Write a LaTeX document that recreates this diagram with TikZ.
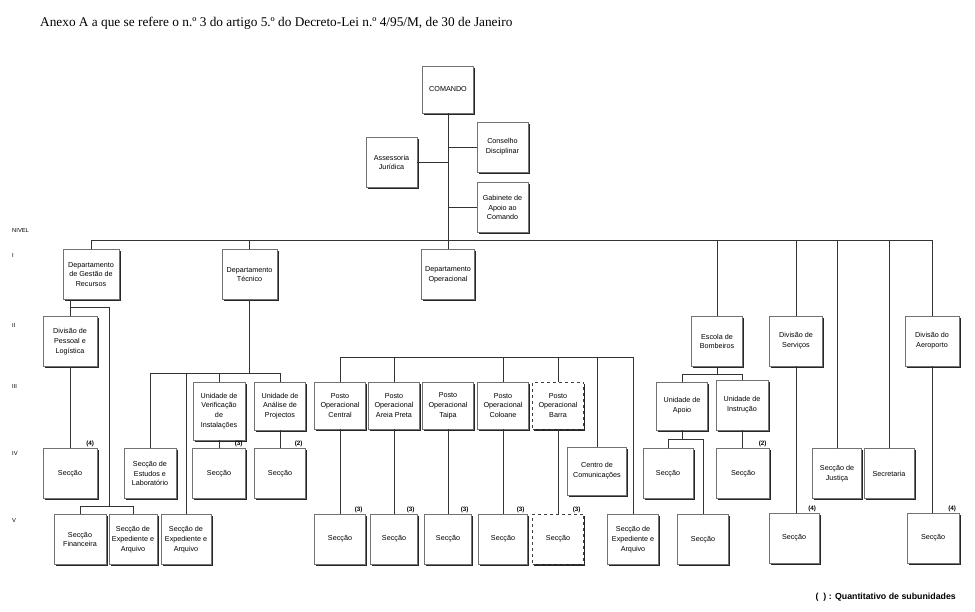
\documentclass[tikz,border=0pt]{standalone}
\usepackage{fontspec}
\setmainfont{Liberation Serif}
\setsansfont{Liberation Sans}
\usetikzlibrary{shadows}

\tikzset{
  caixa/.style={draw=black!55, fill=white, line width=.5pt, minimum width=51pt,
    minimum height=50pt, inner sep=1pt, align=center,
    font=\sffamily\fontsize{7.2}{9.8}\selectfont,
    drop shadow={shadow xshift=1.6pt, shadow yshift=-1.6pt, fill=black!85, opacity=1}},
  tracejada/.style={caixa, dashed, draw=black!75},
  quant/.style={anchor=south east, inner sep=1pt, xshift=-2pt,
    font=\sffamily\bfseries\fontsize{6.3}{7}\selectfont},
  nivel/.style={anchor=west, inner sep=0pt, font=\sffamily\fontsize{5.8}{6}\selectfont},
  ligacao/.style={draw=black!80, line width=.6pt}
}

\begin{document}
\begin{tikzpicture}[x=1pt, y=-1pt]
\useasboundingbox (0,0) rectangle (975,611);
\node[anchor=base west, inner sep=0pt, font=\fontsize{13.3}{15}\selectfont] (titulo) at (40,26.5)
  {Anexo A a que se refere o n.º 3 do artigo 5.º do Decreto-Lei n.º 4/95/M, de 30 de Janeiro};

\node[nivel] (nv) at (12,230) {NIVEL};
\node[nivel] (nv1) at (12,255) {I};
\node[nivel] (nv2) at (12,325) {II};
\node[nivel] (nv3) at (12,386) {III};
\node[nivel] (nv4) at (12,453) {IV};
\node[nivel] (nv5) at (12,520) {V};

\coordinate (topo) at (0,240);
\coordinate (tec) at (0,373);
\coordinate (op) at (0,357);
\coordinate (esc) at (0,374);
\coordinate (ap) at (0,439);
\coordinate (rec) at (0,307);
\coordinate (ramo) at (109,506);

\node[caixa, minimum height=47pt] (comando) at (448,89.5) {COMANDO};
\node[caixa] (conselho) at (502.5,147) {Conselho\\Disciplinar};
\node[caixa] (assessoria) at (391.5,162.5) {Assessoria\\Jurídica};
\node[caixa] (gabinete) at (502.5,207.5) {Gabinete de\\Apoio ao\\Comando};

\node[caixa, minimum width=56pt] (dgr) at (91,274.5) {Departamento\\de Gestão de\\Recursos};
\node[caixa, minimum width=55pt] (dtec) at (249.5,274.5) {Departamento\\Técnico};
\node[caixa, minimum width=53pt] (dop) at (448,274.5) {Departamento\\Operacional};

\node[caixa, minimum width=54pt] (dpl) at (70,341.5) {Divisão de\\Pessoal e\\Logística};
\node[caixa] (escola) at (717,341.5) {Escola de\\Bombeiros};
\node[caixa, minimum width=53pt] (dserv) at (796,341) {Divisão de\\Serviços};
\node[caixa, minimum width=54pt] (daero) at (932,341) {Divisão do\\Aeroporto};

\node[caixa, minimum width=52pt, minimum height=58pt] (uvi) at (219,411) {Unidade de\\Verificação\\de\\Instalações};
\node[caixa, minimum height=48pt] (uap) at (280,406) {Unidade de\\Análise de\\Projectos};
\node[caixa, minimum height=47pt] (pcentral) at (340,405.5) {Posto\\Operacional\\Central};
\node[caixa, minimum height=47pt] (pareia) at (394,405.5) {Posto\\Operacional\\Areia Preta};
\node[caixa, minimum height=47pt] (ptaipa) at (448,405.5) {Posto\\Operacional\\Taipa};
\node[caixa, minimum height=47pt] (pcoloane) at (503,405.5) {Posto\\Operacional\\Coloane};
\node[tracejada, minimum height=47pt] (pbarra) at (558,405.5) {Posto\\Operacional\\Barra};
\node[caixa, minimum height=48pt] (uapoio) at (682,406) {Unidade de\\Apoio};
\node[caixa, minimum width=52pt, minimum height=50pt] (uinstr) at (742,405) {Unidade de\\Instrução};

\node[caixa, minimum width=54pt] (sec1) at (70,473.5) {Secção};
\node[caixa, minimum width=52pt] (sel) at (150,473.5) {Secção de\\Estudos e\\Laboratório};
\node[caixa, minimum width=53pt] (sec2) at (219,473.5) {Secção};
\node[caixa] (sec3) at (280,473.5) {Secção};
\node[caixa, minimum width=59pt, minimum height=48pt] (ccom) at (597,471) {Centro de\\Comunicações};
\node[caixa, minimum width=50pt] (sec4) at (668,473.5) {Secção};
\node[caixa, minimum width=53pt] (sec5) at (743,473.5) {Secção};
\node[caixa, minimum width=49pt] (sjust) at (837,473.5) {Secção de\\Justiça};
\node[caixa, minimum width=50pt] (secret) at (889,473.5) {Secretaria};

\node[caixa, minimum width=52pt] (sfin) at (80,539.5) {Secção\\Financeira};
\node[caixa, minimum width=48pt] (sexp1) at (133,539.5) {Secção de\\Expediente e\\Arquivo};
\node[caixa, minimum width=50pt] (sexp2) at (186,539.5) {Secção de\\Expediente e\\Arquivo};
\node[caixa] (seccen) at (340,539) {Secção};
\node[caixa, minimum width=47pt] (secare) at (394,539) {Secção};
\node[caixa, minimum width=47pt] (sectai) at (448,539) {Secção};
\node[caixa, minimum width=49pt] (seccol) at (503,539) {Secção};
\node[tracejada] (secbar) at (558,539) {Secção};
\node[caixa] (sexp3) at (633,539.5) {Secção de\\Expediente e\\Arquivo};
\node[caixa] (sec6) at (703,539.5) {Secção};
\node[caixa, minimum width=50pt] (sec7) at (794,538) {Secção};
\node[caixa, minimum width=52pt] (sec8) at (933,538) {Secção};

\node[quant] (q1) at (sec1.north east) {(4)};
\node[quant] (q2) at (sec2.north east) {(3)};
\node[quant] (q3) at (sec3.north east) {(2)};
\node[quant] (q4) at (seccen.north east) {(3)};
\node[quant] (q5) at (secare.north east) {(3)};
\node[quant] (q6) at (sectai.north east) {(3)};
\node[quant] (q7) at (seccol.north east) {(3)};
\node[quant] (q8) at (secbar.north east) {(3)};
\node[quant] (q9) at (sec5.north east) {(2)};
\node[quant] (q10) at (sec7.north east) {(4)};
\node[quant] (q11) at (sec8.north east) {(4)};

\node[anchor=east, inner sep=0pt, font=\sffamily\bfseries\fontsize{8.8}{10}\selectfont] (legenda) at (956,597)
  {(\ \ ) : Quantitativo de subunidades};

\draw[ligacao] (comando.south) -- (dop.north);
\draw[ligacao] (conselho.west) -- (conselho.west -| comando.south);
\draw[ligacao] (assessoria.east) -- (assessoria.east -| comando.south);
\draw[ligacao] (gabinete.west) -- (gabinete.west -| comando.south);

\draw[ligacao] (dgr.north) |- (daero.north |- topo) -- (daero.north);
\draw[ligacao] (dtec.north) -- (dtec.north |- topo);
\draw[ligacao] (escola.north) -- (escola.north |- topo);
\draw[ligacao] (dserv.north) -- (dserv.north |- topo);
\draw[ligacao] (sjust.north) -- (sjust.north |- topo);
\draw[ligacao] (secret.north) -- (secret.north |- topo);

\draw[ligacao] (dpl.north |- dgr.south) -- (dpl.north);
\draw[ligacao] (dpl.north |- rec) -| (ramo);
\draw[ligacao] (sfin.north) |- (sexp1.north |- ramo) -- (sexp1.north);
\draw[ligacao] (dpl.south) -- (sec1.north);

\draw[ligacao] (dtec.south) -- (dtec.south |- tec);
\draw[ligacao] (sel.north) |- (uap.north |- tec) -- (uap.north);
\draw[ligacao] (sexp2.north) -- (sexp2.north |- tec);
\draw[ligacao] (uvi.north) -- (uvi.north |- tec);
\draw[ligacao] (uvi.south) -- (sec2.north);
\draw[ligacao] (uap.south) -- (sec3.north);

\draw[ligacao] (pcentral.north) |- (sexp3.north |- op) -- (sexp3.north);
\draw[ligacao] (pareia.north) -- (pareia.north |- op);
\draw[ligacao] (pcoloane.north) -- (pcoloane.north |- op);
\draw[ligacao] (pbarra.north) -- (pbarra.north |- op);
\draw[ligacao] (ccom.north) -- (ccom.north |- op);
\draw[ligacao] (pcentral.south) -- (seccen.north);
\draw[ligacao] (pareia.south) -- (secare.north);
\draw[ligacao] (ptaipa.south) -- (sectai.north);
\draw[ligacao] (pcoloane.south) -- (seccol.north);
\draw[ligacao] (pbarra.south) -- (secbar.north);

\draw[ligacao] (escola.south) -- (escola.south |- esc);
\draw[ligacao] (uapoio.north) |- (uinstr.north |- esc) -- (uinstr.north);
\draw[ligacao] (uapoio.south) -- (uapoio.south |- ap);
\draw[ligacao] (sec4.north) |- (sec6.north |- ap) -- (sec6.north);
\draw[ligacao] (uinstr.south) -- (uinstr.south |- sec5.north);
\draw[ligacao] (dserv.south) -- (dserv.south |- sec7.north);
\draw[ligacao] (daero.south) -- (daero.south |- sec8.north);
\end{tikzpicture}
\end{document}
